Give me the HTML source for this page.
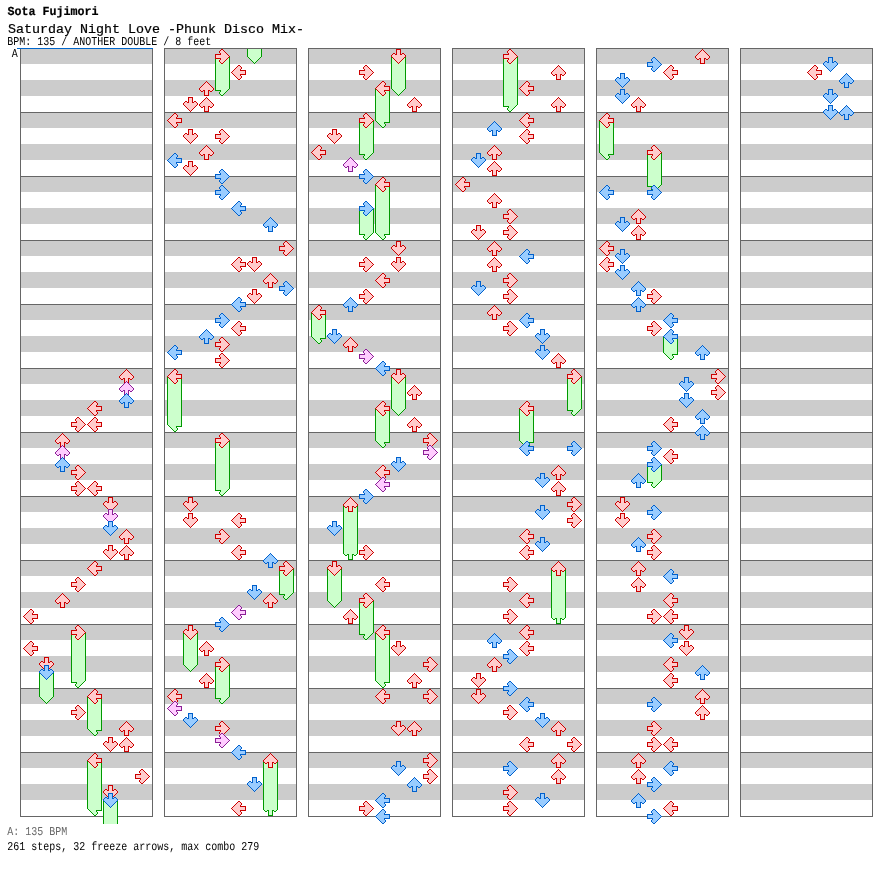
<!DOCTYPE html>
<html><head><meta charset="utf-8"><title>Saturday Night Love -Phunk Disco Mix-</title>
<style>
html,body{margin:0;padding:0;background:#fff}
#w{position:relative;width:896px;height:876px;overflow:hidden;background:#fff;font-family:"Liberation Mono","DejaVu Sans Mono",monospace;color:#000}
.t{position:absolute;left:8px;white-space:pre;line-height:1;transform-origin:0 0}
</style></head><body><div id="w">
<svg width="896" height="876" viewBox="0 0 896 876" shape-rendering="crispEdges" style="position:absolute;left:0;top:0">
<defs><g id="Lr"><path fill="#ffcccc" d="M7 1h2v1h-2zM6 2h4v1h-4zM5 3h5v1h-5zM4 4h5v1h-5zM3 5h6v1h-6zM2 6h12v1h-12zM1 7h13v1h-13zM2 8h12v1h-12zM3 9h6v1h-6zM4 10h5v1h-5zM5 11h5v1h-5zM6 12h4v1h-4zM7 13h2v1h-2z"/><path fill="#cc0000" d="M7 0h2v1h-2zM6 1h1v1h-1zM9 1h1v1h-1zM5 2h1v1h-1zM10 2h1v1h-1zM4 3h1v1h-1zM10 3h1v1h-1zM3 4h1v1h-1zM9 4h1v1h-1zM2 5h1v1h-1zM9 5h6v1h-6zM1 6h1v1h-1zM14 6h1v1h-1zM0 7h1v1h-1zM14 7h1v1h-1zM1 8h1v1h-1zM14 8h1v1h-1zM2 9h1v1h-1zM9 9h6v1h-6zM3 10h1v1h-1zM9 10h1v1h-1zM4 11h1v1h-1zM10 11h1v1h-1zM5 12h1v1h-1zM10 12h1v1h-1zM6 13h1v1h-1zM9 13h1v1h-1zM7 14h2v1h-2z"/></g><g id="Lb"><path fill="#99ccff" d="M7 1h2v1h-2zM6 2h4v1h-4zM5 3h5v1h-5zM4 4h5v1h-5zM3 5h6v1h-6zM2 6h12v1h-12zM1 7h13v1h-13zM2 8h12v1h-12zM3 9h6v1h-6zM4 10h5v1h-5zM5 11h5v1h-5zM6 12h4v1h-4zM7 13h2v1h-2z"/><path fill="#0060cc" d="M7 0h2v1h-2zM6 1h1v1h-1zM9 1h1v1h-1zM5 2h1v1h-1zM10 2h1v1h-1zM4 3h1v1h-1zM10 3h1v1h-1zM3 4h1v1h-1zM9 4h1v1h-1zM2 5h1v1h-1zM9 5h6v1h-6zM1 6h1v1h-1zM14 6h1v1h-1zM0 7h1v1h-1zM14 7h1v1h-1zM1 8h1v1h-1zM14 8h1v1h-1zM2 9h1v1h-1zM9 9h6v1h-6zM3 10h1v1h-1zM9 10h1v1h-1zM4 11h1v1h-1zM10 11h1v1h-1zM5 12h1v1h-1zM10 12h1v1h-1zM6 13h1v1h-1zM9 13h1v1h-1zM7 14h2v1h-2z"/></g><g id="Lp"><path fill="#ffccff" d="M7 1h2v1h-2zM6 2h4v1h-4zM5 3h5v1h-5zM4 4h5v1h-5zM3 5h6v1h-6zM2 6h12v1h-12zM1 7h13v1h-13zM2 8h12v1h-12zM3 9h6v1h-6zM4 10h5v1h-5zM5 11h5v1h-5zM6 12h4v1h-4zM7 13h2v1h-2z"/><path fill="#8b1f96" d="M7 0h2v1h-2zM6 1h1v1h-1zM9 1h1v1h-1zM5 2h1v1h-1zM10 2h1v1h-1zM4 3h1v1h-1zM10 3h1v1h-1zM3 4h1v1h-1zM9 4h1v1h-1zM2 5h1v1h-1zM9 5h6v1h-6zM1 6h1v1h-1zM14 6h1v1h-1zM0 7h1v1h-1zM14 7h1v1h-1zM1 8h1v1h-1zM14 8h1v1h-1zM2 9h1v1h-1zM9 9h6v1h-6zM3 10h1v1h-1zM9 10h1v1h-1zM4 11h1v1h-1zM10 11h1v1h-1zM5 12h1v1h-1zM10 12h1v1h-1zM6 13h1v1h-1zM9 13h1v1h-1zM7 14h2v1h-2z"/></g><g id="tL"><path fill="#ccffcc" d="M1 7h13v1h-13zM2 8h12v1h-12zM3 9h6v1h-6zM4 10h5v1h-5zM5 11h5v1h-5zM6 12h4v1h-4zM7 13h2v1h-2z"/><path fill="#009900" d="M0 7h1v1h-1zM14 7h1v1h-1zM1 8h1v1h-1zM14 8h1v1h-1zM2 9h1v1h-1zM9 9h6v1h-6zM3 10h1v1h-1zM9 10h1v1h-1zM4 11h1v1h-1zM10 11h1v1h-1zM5 12h1v1h-1zM10 12h1v1h-1zM6 13h1v1h-1zM9 13h1v1h-1zM7 14h2v1h-2z"/></g><g id="Rr"><path fill="#ffcccc" d="M6 1h2v1h-2zM5 2h4v1h-4zM5 3h5v1h-5zM6 4h5v1h-5zM6 5h6v1h-6zM1 6h12v1h-12zM1 7h13v1h-13zM1 8h12v1h-12zM6 9h6v1h-6zM6 10h5v1h-5zM5 11h5v1h-5zM5 12h4v1h-4zM6 13h2v1h-2z"/><path fill="#cc0000" d="M6 0h2v1h-2zM5 1h1v1h-1zM8 1h1v1h-1zM4 2h1v1h-1zM9 2h1v1h-1zM4 3h1v1h-1zM10 3h1v1h-1zM5 4h1v1h-1zM11 4h1v1h-1zM0 5h6v1h-6zM12 5h1v1h-1zM0 6h1v1h-1zM13 6h1v1h-1zM0 7h1v1h-1zM14 7h1v1h-1zM0 8h1v1h-1zM13 8h1v1h-1zM0 9h6v1h-6zM12 9h1v1h-1zM5 10h1v1h-1zM11 10h1v1h-1zM4 11h1v1h-1zM10 11h1v1h-1zM4 12h1v1h-1zM9 12h1v1h-1zM5 13h1v1h-1zM8 13h1v1h-1zM6 14h2v1h-2z"/></g><g id="Rb"><path fill="#99ccff" d="M6 1h2v1h-2zM5 2h4v1h-4zM5 3h5v1h-5zM6 4h5v1h-5zM6 5h6v1h-6zM1 6h12v1h-12zM1 7h13v1h-13zM1 8h12v1h-12zM6 9h6v1h-6zM6 10h5v1h-5zM5 11h5v1h-5zM5 12h4v1h-4zM6 13h2v1h-2z"/><path fill="#0060cc" d="M6 0h2v1h-2zM5 1h1v1h-1zM8 1h1v1h-1zM4 2h1v1h-1zM9 2h1v1h-1zM4 3h1v1h-1zM10 3h1v1h-1zM5 4h1v1h-1zM11 4h1v1h-1zM0 5h6v1h-6zM12 5h1v1h-1zM0 6h1v1h-1zM13 6h1v1h-1zM0 7h1v1h-1zM14 7h1v1h-1zM0 8h1v1h-1zM13 8h1v1h-1zM0 9h6v1h-6zM12 9h1v1h-1zM5 10h1v1h-1zM11 10h1v1h-1zM4 11h1v1h-1zM10 11h1v1h-1zM4 12h1v1h-1zM9 12h1v1h-1zM5 13h1v1h-1zM8 13h1v1h-1zM6 14h2v1h-2z"/></g><g id="Rp"><path fill="#ffccff" d="M6 1h2v1h-2zM5 2h4v1h-4zM5 3h5v1h-5zM6 4h5v1h-5zM6 5h6v1h-6zM1 6h12v1h-12zM1 7h13v1h-13zM1 8h12v1h-12zM6 9h6v1h-6zM6 10h5v1h-5zM5 11h5v1h-5zM5 12h4v1h-4zM6 13h2v1h-2z"/><path fill="#8b1f96" d="M6 0h2v1h-2zM5 1h1v1h-1zM8 1h1v1h-1zM4 2h1v1h-1zM9 2h1v1h-1zM4 3h1v1h-1zM10 3h1v1h-1zM5 4h1v1h-1zM11 4h1v1h-1zM0 5h6v1h-6zM12 5h1v1h-1zM0 6h1v1h-1zM13 6h1v1h-1zM0 7h1v1h-1zM14 7h1v1h-1zM0 8h1v1h-1zM13 8h1v1h-1zM0 9h6v1h-6zM12 9h1v1h-1zM5 10h1v1h-1zM11 10h1v1h-1zM4 11h1v1h-1zM10 11h1v1h-1zM4 12h1v1h-1zM9 12h1v1h-1zM5 13h1v1h-1zM8 13h1v1h-1zM6 14h2v1h-2z"/></g><g id="tR"><path fill="#ccffcc" d="M1 7h13v1h-13zM1 8h12v1h-12zM6 9h6v1h-6zM6 10h5v1h-5zM5 11h5v1h-5zM5 12h4v1h-4zM6 13h2v1h-2z"/><path fill="#009900" d="M0 7h1v1h-1zM14 7h1v1h-1zM0 8h1v1h-1zM13 8h1v1h-1zM0 9h6v1h-6zM12 9h1v1h-1zM5 10h1v1h-1zM11 10h1v1h-1zM4 11h1v1h-1zM10 11h1v1h-1zM4 12h1v1h-1zM9 12h1v1h-1zM5 13h1v1h-1zM8 13h1v1h-1zM6 14h2v1h-2z"/></g><g id="Ur"><path fill="#ffcccc" d="M7 1h1v1h-1zM6 2h3v1h-3zM5 3h5v1h-5zM4 4h7v1h-7zM3 5h9v1h-9zM2 6h11v1h-11zM1 7h13v1h-13zM1 8h13v1h-13zM2 9h2v1h-2zM6 9h3v1h-3zM11 9h2v1h-2zM6 10h3v1h-3zM6 11h3v1h-3zM6 12h3v1h-3zM6 13h3v1h-3z"/><path fill="#cc0000" d="M7 0h1v1h-1zM6 1h1v1h-1zM8 1h1v1h-1zM5 2h1v1h-1zM9 2h1v1h-1zM4 3h1v1h-1zM10 3h1v1h-1zM3 4h1v1h-1zM11 4h1v1h-1zM2 5h1v1h-1zM12 5h1v1h-1zM1 6h1v1h-1zM13 6h1v1h-1zM0 7h1v1h-1zM14 7h1v1h-1zM0 8h1v1h-1zM14 8h1v1h-1zM1 9h1v1h-1zM4 9h2v1h-2zM9 9h2v1h-2zM13 9h1v1h-1zM2 10h2v1h-2zM5 10h1v1h-1zM9 10h1v1h-1zM11 10h2v1h-2zM5 11h1v1h-1zM9 11h1v1h-1zM5 12h1v1h-1zM9 12h1v1h-1zM5 13h1v1h-1zM9 13h1v1h-1zM5 14h5v1h-5z"/></g><g id="Ub"><path fill="#99ccff" d="M7 1h1v1h-1zM6 2h3v1h-3zM5 3h5v1h-5zM4 4h7v1h-7zM3 5h9v1h-9zM2 6h11v1h-11zM1 7h13v1h-13zM1 8h13v1h-13zM2 9h2v1h-2zM6 9h3v1h-3zM11 9h2v1h-2zM6 10h3v1h-3zM6 11h3v1h-3zM6 12h3v1h-3zM6 13h3v1h-3z"/><path fill="#0060cc" d="M7 0h1v1h-1zM6 1h1v1h-1zM8 1h1v1h-1zM5 2h1v1h-1zM9 2h1v1h-1zM4 3h1v1h-1zM10 3h1v1h-1zM3 4h1v1h-1zM11 4h1v1h-1zM2 5h1v1h-1zM12 5h1v1h-1zM1 6h1v1h-1zM13 6h1v1h-1zM0 7h1v1h-1zM14 7h1v1h-1zM0 8h1v1h-1zM14 8h1v1h-1zM1 9h1v1h-1zM4 9h2v1h-2zM9 9h2v1h-2zM13 9h1v1h-1zM2 10h2v1h-2zM5 10h1v1h-1zM9 10h1v1h-1zM11 10h2v1h-2zM5 11h1v1h-1zM9 11h1v1h-1zM5 12h1v1h-1zM9 12h1v1h-1zM5 13h1v1h-1zM9 13h1v1h-1zM5 14h5v1h-5z"/></g><g id="Up"><path fill="#ffccff" d="M7 1h1v1h-1zM6 2h3v1h-3zM5 3h5v1h-5zM4 4h7v1h-7zM3 5h9v1h-9zM2 6h11v1h-11zM1 7h13v1h-13zM1 8h13v1h-13zM2 9h2v1h-2zM6 9h3v1h-3zM11 9h2v1h-2zM6 10h3v1h-3zM6 11h3v1h-3zM6 12h3v1h-3zM6 13h3v1h-3z"/><path fill="#8b1f96" d="M7 0h1v1h-1zM6 1h1v1h-1zM8 1h1v1h-1zM5 2h1v1h-1zM9 2h1v1h-1zM4 3h1v1h-1zM10 3h1v1h-1zM3 4h1v1h-1zM11 4h1v1h-1zM2 5h1v1h-1zM12 5h1v1h-1zM1 6h1v1h-1zM13 6h1v1h-1zM0 7h1v1h-1zM14 7h1v1h-1zM0 8h1v1h-1zM14 8h1v1h-1zM1 9h1v1h-1zM4 9h2v1h-2zM9 9h2v1h-2zM13 9h1v1h-1zM2 10h2v1h-2zM5 10h1v1h-1zM9 10h1v1h-1zM11 10h2v1h-2zM5 11h1v1h-1zM9 11h1v1h-1zM5 12h1v1h-1zM9 12h1v1h-1zM5 13h1v1h-1zM9 13h1v1h-1zM5 14h5v1h-5z"/></g><g id="tU"><path fill="#ccffcc" d="M1 7h13v1h-13zM1 8h13v1h-13zM2 9h2v1h-2zM6 9h3v1h-3zM11 9h2v1h-2zM6 10h3v1h-3zM6 11h3v1h-3zM6 12h3v1h-3zM6 13h3v1h-3z"/><path fill="#009900" d="M0 7h1v1h-1zM14 7h1v1h-1zM0 8h1v1h-1zM14 8h1v1h-1zM1 9h1v1h-1zM4 9h2v1h-2zM9 9h2v1h-2zM13 9h1v1h-1zM2 10h2v1h-2zM5 10h1v1h-1zM9 10h1v1h-1zM11 10h2v1h-2zM5 11h1v1h-1zM9 11h1v1h-1zM5 12h1v1h-1zM9 12h1v1h-1zM5 13h1v1h-1zM9 13h1v1h-1zM5 14h5v1h-5z"/></g><g id="Dr"><path fill="#ffcccc" d="M6 1h3v1h-3zM6 2h3v1h-3zM6 3h3v1h-3zM6 4h3v1h-3zM2 5h2v1h-2zM6 5h3v1h-3zM11 5h2v1h-2zM1 6h13v1h-13zM1 7h13v1h-13zM2 8h11v1h-11zM3 9h9v1h-9zM4 10h7v1h-7zM5 11h5v1h-5zM6 12h3v1h-3zM7 13h1v1h-1z"/><path fill="#cc0000" d="M5 0h5v1h-5zM5 1h1v1h-1zM9 1h1v1h-1zM5 2h1v1h-1zM9 2h1v1h-1zM5 3h1v1h-1zM9 3h1v1h-1zM2 4h2v1h-2zM5 4h1v1h-1zM9 4h1v1h-1zM11 4h2v1h-2zM1 5h1v1h-1zM4 5h2v1h-2zM9 5h2v1h-2zM13 5h1v1h-1zM0 6h1v1h-1zM14 6h1v1h-1zM0 7h1v1h-1zM14 7h1v1h-1zM1 8h1v1h-1zM13 8h1v1h-1zM2 9h1v1h-1zM12 9h1v1h-1zM3 10h1v1h-1zM11 10h1v1h-1zM4 11h1v1h-1zM10 11h1v1h-1zM5 12h1v1h-1zM9 12h1v1h-1zM6 13h1v1h-1zM8 13h1v1h-1zM7 14h1v1h-1z"/></g><g id="Db"><path fill="#99ccff" d="M6 1h3v1h-3zM6 2h3v1h-3zM6 3h3v1h-3zM6 4h3v1h-3zM2 5h2v1h-2zM6 5h3v1h-3zM11 5h2v1h-2zM1 6h13v1h-13zM1 7h13v1h-13zM2 8h11v1h-11zM3 9h9v1h-9zM4 10h7v1h-7zM5 11h5v1h-5zM6 12h3v1h-3zM7 13h1v1h-1z"/><path fill="#0060cc" d="M5 0h5v1h-5zM5 1h1v1h-1zM9 1h1v1h-1zM5 2h1v1h-1zM9 2h1v1h-1zM5 3h1v1h-1zM9 3h1v1h-1zM2 4h2v1h-2zM5 4h1v1h-1zM9 4h1v1h-1zM11 4h2v1h-2zM1 5h1v1h-1zM4 5h2v1h-2zM9 5h2v1h-2zM13 5h1v1h-1zM0 6h1v1h-1zM14 6h1v1h-1zM0 7h1v1h-1zM14 7h1v1h-1zM1 8h1v1h-1zM13 8h1v1h-1zM2 9h1v1h-1zM12 9h1v1h-1zM3 10h1v1h-1zM11 10h1v1h-1zM4 11h1v1h-1zM10 11h1v1h-1zM5 12h1v1h-1zM9 12h1v1h-1zM6 13h1v1h-1zM8 13h1v1h-1zM7 14h1v1h-1z"/></g><g id="Dp"><path fill="#ffccff" d="M6 1h3v1h-3zM6 2h3v1h-3zM6 3h3v1h-3zM6 4h3v1h-3zM2 5h2v1h-2zM6 5h3v1h-3zM11 5h2v1h-2zM1 6h13v1h-13zM1 7h13v1h-13zM2 8h11v1h-11zM3 9h9v1h-9zM4 10h7v1h-7zM5 11h5v1h-5zM6 12h3v1h-3zM7 13h1v1h-1z"/><path fill="#8b1f96" d="M5 0h5v1h-5zM5 1h1v1h-1zM9 1h1v1h-1zM5 2h1v1h-1zM9 2h1v1h-1zM5 3h1v1h-1zM9 3h1v1h-1zM2 4h2v1h-2zM5 4h1v1h-1zM9 4h1v1h-1zM11 4h2v1h-2zM1 5h1v1h-1zM4 5h2v1h-2zM9 5h2v1h-2zM13 5h1v1h-1zM0 6h1v1h-1zM14 6h1v1h-1zM0 7h1v1h-1zM14 7h1v1h-1zM1 8h1v1h-1zM13 8h1v1h-1zM2 9h1v1h-1zM12 9h1v1h-1zM3 10h1v1h-1zM11 10h1v1h-1zM4 11h1v1h-1zM10 11h1v1h-1zM5 12h1v1h-1zM9 12h1v1h-1zM6 13h1v1h-1zM8 13h1v1h-1zM7 14h1v1h-1z"/></g><g id="tD"><path fill="#ccffcc" d="M1 7h13v1h-13zM2 8h11v1h-11zM3 9h9v1h-9zM4 10h7v1h-7zM5 11h5v1h-5zM6 12h3v1h-3zM7 13h1v1h-1z"/><path fill="#009900" d="M0 7h1v1h-1zM14 7h1v1h-1zM1 8h1v1h-1zM13 8h1v1h-1zM2 9h1v1h-1zM12 9h1v1h-1zM3 10h1v1h-1zM11 10h1v1h-1zM4 11h1v1h-1zM10 11h1v1h-1zM5 12h1v1h-1zM9 12h1v1h-1zM6 13h1v1h-1zM8 13h1v1h-1zM7 14h1v1h-1z"/></g></defs>
<rect x="20" y="48" width="133" height="769" fill="#fff"/>
<rect x="21" y="48" width="131" height="16" fill="#ccc"/>
<rect x="21" y="80" width="131" height="16" fill="#ccc"/>
<rect x="21" y="112" width="131" height="16" fill="#ccc"/>
<rect x="21" y="144" width="131" height="16" fill="#ccc"/>
<rect x="21" y="176" width="131" height="16" fill="#ccc"/>
<rect x="21" y="208" width="131" height="16" fill="#ccc"/>
<rect x="21" y="240" width="131" height="16" fill="#ccc"/>
<rect x="21" y="272" width="131" height="16" fill="#ccc"/>
<rect x="21" y="304" width="131" height="16" fill="#ccc"/>
<rect x="21" y="336" width="131" height="16" fill="#ccc"/>
<rect x="21" y="368" width="131" height="16" fill="#ccc"/>
<rect x="21" y="400" width="131" height="16" fill="#ccc"/>
<rect x="21" y="432" width="131" height="16" fill="#ccc"/>
<rect x="21" y="464" width="131" height="16" fill="#ccc"/>
<rect x="21" y="496" width="131" height="16" fill="#ccc"/>
<rect x="21" y="528" width="131" height="16" fill="#ccc"/>
<rect x="21" y="560" width="131" height="16" fill="#ccc"/>
<rect x="21" y="592" width="131" height="16" fill="#ccc"/>
<rect x="21" y="624" width="131" height="16" fill="#ccc"/>
<rect x="21" y="656" width="131" height="16" fill="#ccc"/>
<rect x="21" y="688" width="131" height="16" fill="#ccc"/>
<rect x="21" y="720" width="131" height="16" fill="#ccc"/>
<rect x="21" y="752" width="131" height="16" fill="#ccc"/>
<rect x="21" y="784" width="131" height="16" fill="#ccc"/>
<rect x="20" y="112" width="133" height="1" fill="#666"/>
<rect x="20" y="176" width="133" height="1" fill="#666"/>
<rect x="20" y="240" width="133" height="1" fill="#666"/>
<rect x="20" y="304" width="133" height="1" fill="#666"/>
<rect x="20" y="368" width="133" height="1" fill="#666"/>
<rect x="20" y="432" width="133" height="1" fill="#666"/>
<rect x="20" y="496" width="133" height="1" fill="#666"/>
<rect x="20" y="560" width="133" height="1" fill="#666"/>
<rect x="20" y="624" width="133" height="1" fill="#666"/>
<rect x="20" y="688" width="133" height="1" fill="#666"/>
<rect x="20" y="752" width="133" height="1" fill="#666"/>
<path fill="none" stroke="#666" stroke-width="1" d="M20.5 48.5h132v768h-132z"/>
<rect x="164" y="48" width="133" height="769" fill="#fff"/>
<rect x="165" y="48" width="131" height="16" fill="#ccc"/>
<rect x="165" y="80" width="131" height="16" fill="#ccc"/>
<rect x="165" y="112" width="131" height="16" fill="#ccc"/>
<rect x="165" y="144" width="131" height="16" fill="#ccc"/>
<rect x="165" y="176" width="131" height="16" fill="#ccc"/>
<rect x="165" y="208" width="131" height="16" fill="#ccc"/>
<rect x="165" y="240" width="131" height="16" fill="#ccc"/>
<rect x="165" y="272" width="131" height="16" fill="#ccc"/>
<rect x="165" y="304" width="131" height="16" fill="#ccc"/>
<rect x="165" y="336" width="131" height="16" fill="#ccc"/>
<rect x="165" y="368" width="131" height="16" fill="#ccc"/>
<rect x="165" y="400" width="131" height="16" fill="#ccc"/>
<rect x="165" y="432" width="131" height="16" fill="#ccc"/>
<rect x="165" y="464" width="131" height="16" fill="#ccc"/>
<rect x="165" y="496" width="131" height="16" fill="#ccc"/>
<rect x="165" y="528" width="131" height="16" fill="#ccc"/>
<rect x="165" y="560" width="131" height="16" fill="#ccc"/>
<rect x="165" y="592" width="131" height="16" fill="#ccc"/>
<rect x="165" y="624" width="131" height="16" fill="#ccc"/>
<rect x="165" y="656" width="131" height="16" fill="#ccc"/>
<rect x="165" y="688" width="131" height="16" fill="#ccc"/>
<rect x="165" y="720" width="131" height="16" fill="#ccc"/>
<rect x="165" y="752" width="131" height="16" fill="#ccc"/>
<rect x="165" y="784" width="131" height="16" fill="#ccc"/>
<rect x="164" y="112" width="133" height="1" fill="#666"/>
<rect x="164" y="176" width="133" height="1" fill="#666"/>
<rect x="164" y="240" width="133" height="1" fill="#666"/>
<rect x="164" y="304" width="133" height="1" fill="#666"/>
<rect x="164" y="368" width="133" height="1" fill="#666"/>
<rect x="164" y="432" width="133" height="1" fill="#666"/>
<rect x="164" y="496" width="133" height="1" fill="#666"/>
<rect x="164" y="560" width="133" height="1" fill="#666"/>
<rect x="164" y="624" width="133" height="1" fill="#666"/>
<rect x="164" y="688" width="133" height="1" fill="#666"/>
<rect x="164" y="752" width="133" height="1" fill="#666"/>
<path fill="none" stroke="#666" stroke-width="1" d="M164.5 48.5h132v768h-132z"/>
<rect x="308" y="48" width="133" height="769" fill="#fff"/>
<rect x="309" y="48" width="131" height="16" fill="#ccc"/>
<rect x="309" y="80" width="131" height="16" fill="#ccc"/>
<rect x="309" y="112" width="131" height="16" fill="#ccc"/>
<rect x="309" y="144" width="131" height="16" fill="#ccc"/>
<rect x="309" y="176" width="131" height="16" fill="#ccc"/>
<rect x="309" y="208" width="131" height="16" fill="#ccc"/>
<rect x="309" y="240" width="131" height="16" fill="#ccc"/>
<rect x="309" y="272" width="131" height="16" fill="#ccc"/>
<rect x="309" y="304" width="131" height="16" fill="#ccc"/>
<rect x="309" y="336" width="131" height="16" fill="#ccc"/>
<rect x="309" y="368" width="131" height="16" fill="#ccc"/>
<rect x="309" y="400" width="131" height="16" fill="#ccc"/>
<rect x="309" y="432" width="131" height="16" fill="#ccc"/>
<rect x="309" y="464" width="131" height="16" fill="#ccc"/>
<rect x="309" y="496" width="131" height="16" fill="#ccc"/>
<rect x="309" y="528" width="131" height="16" fill="#ccc"/>
<rect x="309" y="560" width="131" height="16" fill="#ccc"/>
<rect x="309" y="592" width="131" height="16" fill="#ccc"/>
<rect x="309" y="624" width="131" height="16" fill="#ccc"/>
<rect x="309" y="656" width="131" height="16" fill="#ccc"/>
<rect x="309" y="688" width="131" height="16" fill="#ccc"/>
<rect x="309" y="720" width="131" height="16" fill="#ccc"/>
<rect x="309" y="752" width="131" height="16" fill="#ccc"/>
<rect x="309" y="784" width="131" height="16" fill="#ccc"/>
<rect x="308" y="112" width="133" height="1" fill="#666"/>
<rect x="308" y="176" width="133" height="1" fill="#666"/>
<rect x="308" y="240" width="133" height="1" fill="#666"/>
<rect x="308" y="304" width="133" height="1" fill="#666"/>
<rect x="308" y="368" width="133" height="1" fill="#666"/>
<rect x="308" y="432" width="133" height="1" fill="#666"/>
<rect x="308" y="496" width="133" height="1" fill="#666"/>
<rect x="308" y="560" width="133" height="1" fill="#666"/>
<rect x="308" y="624" width="133" height="1" fill="#666"/>
<rect x="308" y="688" width="133" height="1" fill="#666"/>
<rect x="308" y="752" width="133" height="1" fill="#666"/>
<path fill="none" stroke="#666" stroke-width="1" d="M308.5 48.5h132v768h-132z"/>
<rect x="452" y="48" width="133" height="769" fill="#fff"/>
<rect x="453" y="48" width="131" height="16" fill="#ccc"/>
<rect x="453" y="80" width="131" height="16" fill="#ccc"/>
<rect x="453" y="112" width="131" height="16" fill="#ccc"/>
<rect x="453" y="144" width="131" height="16" fill="#ccc"/>
<rect x="453" y="176" width="131" height="16" fill="#ccc"/>
<rect x="453" y="208" width="131" height="16" fill="#ccc"/>
<rect x="453" y="240" width="131" height="16" fill="#ccc"/>
<rect x="453" y="272" width="131" height="16" fill="#ccc"/>
<rect x="453" y="304" width="131" height="16" fill="#ccc"/>
<rect x="453" y="336" width="131" height="16" fill="#ccc"/>
<rect x="453" y="368" width="131" height="16" fill="#ccc"/>
<rect x="453" y="400" width="131" height="16" fill="#ccc"/>
<rect x="453" y="432" width="131" height="16" fill="#ccc"/>
<rect x="453" y="464" width="131" height="16" fill="#ccc"/>
<rect x="453" y="496" width="131" height="16" fill="#ccc"/>
<rect x="453" y="528" width="131" height="16" fill="#ccc"/>
<rect x="453" y="560" width="131" height="16" fill="#ccc"/>
<rect x="453" y="592" width="131" height="16" fill="#ccc"/>
<rect x="453" y="624" width="131" height="16" fill="#ccc"/>
<rect x="453" y="656" width="131" height="16" fill="#ccc"/>
<rect x="453" y="688" width="131" height="16" fill="#ccc"/>
<rect x="453" y="720" width="131" height="16" fill="#ccc"/>
<rect x="453" y="752" width="131" height="16" fill="#ccc"/>
<rect x="453" y="784" width="131" height="16" fill="#ccc"/>
<rect x="452" y="112" width="133" height="1" fill="#666"/>
<rect x="452" y="176" width="133" height="1" fill="#666"/>
<rect x="452" y="240" width="133" height="1" fill="#666"/>
<rect x="452" y="304" width="133" height="1" fill="#666"/>
<rect x="452" y="368" width="133" height="1" fill="#666"/>
<rect x="452" y="432" width="133" height="1" fill="#666"/>
<rect x="452" y="496" width="133" height="1" fill="#666"/>
<rect x="452" y="560" width="133" height="1" fill="#666"/>
<rect x="452" y="624" width="133" height="1" fill="#666"/>
<rect x="452" y="688" width="133" height="1" fill="#666"/>
<rect x="452" y="752" width="133" height="1" fill="#666"/>
<path fill="none" stroke="#666" stroke-width="1" d="M452.5 48.5h132v768h-132z"/>
<rect x="596" y="48" width="133" height="769" fill="#fff"/>
<rect x="597" y="48" width="131" height="16" fill="#ccc"/>
<rect x="597" y="80" width="131" height="16" fill="#ccc"/>
<rect x="597" y="112" width="131" height="16" fill="#ccc"/>
<rect x="597" y="144" width="131" height="16" fill="#ccc"/>
<rect x="597" y="176" width="131" height="16" fill="#ccc"/>
<rect x="597" y="208" width="131" height="16" fill="#ccc"/>
<rect x="597" y="240" width="131" height="16" fill="#ccc"/>
<rect x="597" y="272" width="131" height="16" fill="#ccc"/>
<rect x="597" y="304" width="131" height="16" fill="#ccc"/>
<rect x="597" y="336" width="131" height="16" fill="#ccc"/>
<rect x="597" y="368" width="131" height="16" fill="#ccc"/>
<rect x="597" y="400" width="131" height="16" fill="#ccc"/>
<rect x="597" y="432" width="131" height="16" fill="#ccc"/>
<rect x="597" y="464" width="131" height="16" fill="#ccc"/>
<rect x="597" y="496" width="131" height="16" fill="#ccc"/>
<rect x="597" y="528" width="131" height="16" fill="#ccc"/>
<rect x="597" y="560" width="131" height="16" fill="#ccc"/>
<rect x="597" y="592" width="131" height="16" fill="#ccc"/>
<rect x="597" y="624" width="131" height="16" fill="#ccc"/>
<rect x="597" y="656" width="131" height="16" fill="#ccc"/>
<rect x="597" y="688" width="131" height="16" fill="#ccc"/>
<rect x="597" y="720" width="131" height="16" fill="#ccc"/>
<rect x="597" y="752" width="131" height="16" fill="#ccc"/>
<rect x="597" y="784" width="131" height="16" fill="#ccc"/>
<rect x="596" y="112" width="133" height="1" fill="#666"/>
<rect x="596" y="176" width="133" height="1" fill="#666"/>
<rect x="596" y="240" width="133" height="1" fill="#666"/>
<rect x="596" y="304" width="133" height="1" fill="#666"/>
<rect x="596" y="368" width="133" height="1" fill="#666"/>
<rect x="596" y="432" width="133" height="1" fill="#666"/>
<rect x="596" y="496" width="133" height="1" fill="#666"/>
<rect x="596" y="560" width="133" height="1" fill="#666"/>
<rect x="596" y="624" width="133" height="1" fill="#666"/>
<rect x="596" y="688" width="133" height="1" fill="#666"/>
<rect x="596" y="752" width="133" height="1" fill="#666"/>
<path fill="none" stroke="#666" stroke-width="1" d="M596.5 48.5h132v768h-132z"/>
<rect x="740" y="48" width="133" height="769" fill="#fff"/>
<rect x="741" y="48" width="131" height="16" fill="#ccc"/>
<rect x="741" y="80" width="131" height="16" fill="#ccc"/>
<rect x="741" y="112" width="131" height="16" fill="#ccc"/>
<rect x="741" y="144" width="131" height="16" fill="#ccc"/>
<rect x="741" y="176" width="131" height="16" fill="#ccc"/>
<rect x="741" y="208" width="131" height="16" fill="#ccc"/>
<rect x="741" y="240" width="131" height="16" fill="#ccc"/>
<rect x="741" y="272" width="131" height="16" fill="#ccc"/>
<rect x="741" y="304" width="131" height="16" fill="#ccc"/>
<rect x="741" y="336" width="131" height="16" fill="#ccc"/>
<rect x="741" y="368" width="131" height="16" fill="#ccc"/>
<rect x="741" y="400" width="131" height="16" fill="#ccc"/>
<rect x="741" y="432" width="131" height="16" fill="#ccc"/>
<rect x="741" y="464" width="131" height="16" fill="#ccc"/>
<rect x="741" y="496" width="131" height="16" fill="#ccc"/>
<rect x="741" y="528" width="131" height="16" fill="#ccc"/>
<rect x="741" y="560" width="131" height="16" fill="#ccc"/>
<rect x="741" y="592" width="131" height="16" fill="#ccc"/>
<rect x="741" y="624" width="131" height="16" fill="#ccc"/>
<rect x="741" y="656" width="131" height="16" fill="#ccc"/>
<rect x="741" y="688" width="131" height="16" fill="#ccc"/>
<rect x="741" y="720" width="131" height="16" fill="#ccc"/>
<rect x="741" y="752" width="131" height="16" fill="#ccc"/>
<rect x="741" y="784" width="131" height="16" fill="#ccc"/>
<rect x="740" y="112" width="133" height="1" fill="#666"/>
<rect x="740" y="176" width="133" height="1" fill="#666"/>
<rect x="740" y="240" width="133" height="1" fill="#666"/>
<rect x="740" y="304" width="133" height="1" fill="#666"/>
<rect x="740" y="368" width="133" height="1" fill="#666"/>
<rect x="740" y="432" width="133" height="1" fill="#666"/>
<rect x="740" y="496" width="133" height="1" fill="#666"/>
<rect x="740" y="560" width="133" height="1" fill="#666"/>
<rect x="740" y="624" width="133" height="1" fill="#666"/>
<rect x="740" y="688" width="133" height="1" fill="#666"/>
<rect x="740" y="752" width="133" height="1" fill="#666"/>
<path fill="none" stroke="#666" stroke-width="1" d="M740.5 48.5h132v768h-132z"/>
<rect x="17" y="48" width="136" height="1" fill="#0066cc"/>
<rect x="71" y="632" width="15" height="48" fill="#ccffcc"/><rect x="71" y="632" width="1" height="48" fill="#009900"/><rect x="85" y="632" width="1" height="48" fill="#009900"/>
<use href="#tR" x="71" y="673"/>
<rect x="39" y="672" width="15" height="24" fill="#ccffcc"/><rect x="39" y="672" width="1" height="24" fill="#009900"/><rect x="53" y="672" width="1" height="24" fill="#009900"/>
<use href="#tD" x="39" y="689"/>
<rect x="87" y="696" width="15" height="32" fill="#ccffcc"/><rect x="87" y="696" width="1" height="32" fill="#009900"/><rect x="101" y="696" width="1" height="32" fill="#009900"/>
<use href="#tL" x="87" y="721"/>
<rect x="87" y="760" width="15" height="48" fill="#ccffcc"/><rect x="87" y="760" width="1" height="48" fill="#009900"/><rect x="101" y="760" width="1" height="48" fill="#009900"/>
<use href="#tL" x="87" y="801"/>
<rect x="103" y="800" width="15" height="24" fill="#ccffcc"/><rect x="103" y="800" width="1" height="24" fill="#009900"/><rect x="117" y="800" width="1" height="24" fill="#009900"/>
<rect x="215" y="56" width="15" height="32" fill="#ccffcc"/><rect x="215" y="56" width="1" height="32" fill="#009900"/><rect x="229" y="56" width="1" height="32" fill="#009900"/>
<use href="#tR" x="215" y="81"/>
<rect x="167" y="376" width="15" height="48" fill="#ccffcc"/><rect x="167" y="376" width="1" height="48" fill="#009900"/><rect x="181" y="376" width="1" height="48" fill="#009900"/>
<use href="#tL" x="167" y="417"/>
<rect x="215" y="440" width="15" height="48" fill="#ccffcc"/><rect x="215" y="440" width="1" height="48" fill="#009900"/><rect x="229" y="440" width="1" height="48" fill="#009900"/>
<use href="#tR" x="215" y="481"/>
<rect x="279" y="568" width="15" height="24" fill="#ccffcc"/><rect x="279" y="568" width="1" height="24" fill="#009900"/><rect x="293" y="568" width="1" height="24" fill="#009900"/>
<use href="#tR" x="279" y="585"/>
<rect x="183" y="632" width="15" height="32" fill="#ccffcc"/><rect x="183" y="632" width="1" height="32" fill="#009900"/><rect x="197" y="632" width="1" height="32" fill="#009900"/>
<use href="#tD" x="183" y="657"/>
<rect x="215" y="664" width="15" height="32" fill="#ccffcc"/><rect x="215" y="664" width="1" height="32" fill="#009900"/><rect x="229" y="664" width="1" height="32" fill="#009900"/>
<use href="#tR" x="215" y="689"/>
<rect x="263" y="760" width="15" height="48" fill="#ccffcc"/><rect x="263" y="760" width="1" height="48" fill="#009900"/><rect x="277" y="760" width="1" height="48" fill="#009900"/>
<use href="#tU" x="263" y="801"/>
<rect x="391" y="56" width="15" height="32" fill="#ccffcc"/><rect x="391" y="56" width="1" height="32" fill="#009900"/><rect x="405" y="56" width="1" height="32" fill="#009900"/>
<use href="#tD" x="391" y="81"/>
<rect x="375" y="88" width="15" height="32" fill="#ccffcc"/><rect x="375" y="88" width="1" height="32" fill="#009900"/><rect x="389" y="88" width="1" height="32" fill="#009900"/>
<use href="#tL" x="375" y="113"/>
<rect x="359" y="120" width="15" height="32" fill="#ccffcc"/><rect x="359" y="120" width="1" height="32" fill="#009900"/><rect x="373" y="120" width="1" height="32" fill="#009900"/>
<use href="#tR" x="359" y="145"/>
<rect x="375" y="184" width="15" height="48" fill="#ccffcc"/><rect x="375" y="184" width="1" height="48" fill="#009900"/><rect x="389" y="184" width="1" height="48" fill="#009900"/>
<use href="#tL" x="375" y="225"/>
<rect x="359" y="208" width="15" height="24" fill="#ccffcc"/><rect x="359" y="208" width="1" height="24" fill="#009900"/><rect x="373" y="208" width="1" height="24" fill="#009900"/>
<use href="#tR" x="359" y="225"/>
<rect x="311" y="312" width="15" height="24" fill="#ccffcc"/><rect x="311" y="312" width="1" height="24" fill="#009900"/><rect x="325" y="312" width="1" height="24" fill="#009900"/>
<use href="#tL" x="311" y="329"/>
<rect x="391" y="376" width="15" height="32" fill="#ccffcc"/><rect x="391" y="376" width="1" height="32" fill="#009900"/><rect x="405" y="376" width="1" height="32" fill="#009900"/>
<use href="#tD" x="391" y="401"/>
<rect x="375" y="408" width="15" height="32" fill="#ccffcc"/><rect x="375" y="408" width="1" height="32" fill="#009900"/><rect x="389" y="408" width="1" height="32" fill="#009900"/>
<use href="#tL" x="375" y="433"/>
<rect x="343" y="504" width="15" height="48" fill="#ccffcc"/><rect x="343" y="504" width="1" height="48" fill="#009900"/><rect x="357" y="504" width="1" height="48" fill="#009900"/>
<use href="#tU" x="343" y="545"/>
<rect x="327" y="568" width="15" height="32" fill="#ccffcc"/><rect x="327" y="568" width="1" height="32" fill="#009900"/><rect x="341" y="568" width="1" height="32" fill="#009900"/>
<use href="#tD" x="327" y="593"/>
<rect x="359" y="600" width="15" height="32" fill="#ccffcc"/><rect x="359" y="600" width="1" height="32" fill="#009900"/><rect x="373" y="600" width="1" height="32" fill="#009900"/>
<use href="#tR" x="359" y="625"/>
<rect x="375" y="632" width="15" height="48" fill="#ccffcc"/><rect x="375" y="632" width="1" height="48" fill="#009900"/><rect x="389" y="632" width="1" height="48" fill="#009900"/>
<use href="#tL" x="375" y="673"/>
<rect x="503" y="56" width="15" height="48" fill="#ccffcc"/><rect x="503" y="56" width="1" height="48" fill="#009900"/><rect x="517" y="56" width="1" height="48" fill="#009900"/>
<use href="#tR" x="503" y="97"/>
<rect x="567" y="376" width="15" height="32" fill="#ccffcc"/><rect x="567" y="376" width="1" height="32" fill="#009900"/><rect x="581" y="376" width="1" height="32" fill="#009900"/>
<use href="#tR" x="567" y="401"/>
<rect x="519" y="408" width="15" height="32" fill="#ccffcc"/><rect x="519" y="408" width="1" height="32" fill="#009900"/><rect x="533" y="408" width="1" height="32" fill="#009900"/>
<use href="#tL" x="519" y="433"/>
<rect x="551" y="568" width="15" height="48" fill="#ccffcc"/><rect x="551" y="568" width="1" height="48" fill="#009900"/><rect x="565" y="568" width="1" height="48" fill="#009900"/>
<use href="#tU" x="551" y="609"/>
<rect x="599" y="120" width="15" height="32" fill="#ccffcc"/><rect x="599" y="120" width="1" height="32" fill="#009900"/><rect x="613" y="120" width="1" height="32" fill="#009900"/>
<use href="#tL" x="599" y="145"/>
<rect x="647" y="152" width="15" height="32" fill="#ccffcc"/><rect x="647" y="152" width="1" height="32" fill="#009900"/><rect x="661" y="152" width="1" height="32" fill="#009900"/>
<use href="#tR" x="647" y="177"/>
<rect x="663" y="336" width="15" height="16" fill="#ccffcc"/><rect x="663" y="336" width="1" height="16" fill="#009900"/><rect x="677" y="336" width="1" height="16" fill="#009900"/>
<use href="#tL" x="663" y="345"/>
<rect x="647" y="464" width="15" height="16" fill="#ccffcc"/><rect x="647" y="464" width="1" height="16" fill="#009900"/><rect x="661" y="464" width="1" height="16" fill="#009900"/>
<use href="#tR" x="647" y="473"/>
<rect x="247" y="49" width="15" height="7" fill="#ccffcc"/><rect x="247" y="49" width="1" height="7" fill="#009900"/><rect x="261" y="49" width="1" height="7" fill="#009900"/>
<use href="#tD" x="247" y="49"/>
<use href="#Ur" x="119" y="369"/>
<use href="#Up" x="119" y="381"/>
<use href="#Ub" x="119" y="393"/>
<use href="#Lr" x="87" y="401"/>
<use href="#Rr" x="71" y="417"/>
<use href="#Lr" x="87" y="417"/>
<use href="#Ur" x="55" y="433"/>
<use href="#Up" x="55" y="445"/>
<use href="#Ub" x="55" y="457"/>
<use href="#Rr" x="71" y="465"/>
<use href="#Rr" x="71" y="481"/>
<use href="#Lr" x="87" y="481"/>
<use href="#Dr" x="103" y="497"/>
<use href="#Dp" x="103" y="509"/>
<use href="#Db" x="103" y="521"/>
<use href="#Ur" x="119" y="529"/>
<use href="#Dr" x="103" y="545"/>
<use href="#Ur" x="119" y="545"/>
<use href="#Lr" x="87" y="561"/>
<use href="#Rr" x="71" y="577"/>
<use href="#Ur" x="55" y="593"/>
<use href="#Lr" x="23" y="609"/>
<use href="#Rr" x="71" y="625"/>
<use href="#Lr" x="23" y="641"/>
<use href="#Dr" x="39" y="657"/>
<use href="#Db" x="39" y="665"/>
<use href="#Lr" x="87" y="689"/>
<use href="#Rr" x="71" y="705"/>
<use href="#Ur" x="119" y="721"/>
<use href="#Dr" x="103" y="737"/>
<use href="#Ur" x="119" y="737"/>
<use href="#Lr" x="87" y="753"/>
<use href="#Rr" x="135" y="769"/>
<use href="#Dr" x="103" y="785"/>
<use href="#Db" x="103" y="793"/>
<use href="#Rr" x="215" y="49"/>
<use href="#Lr" x="231" y="65"/>
<use href="#Ur" x="199" y="81"/>
<use href="#Dr" x="183" y="97"/>
<use href="#Ur" x="199" y="97"/>
<use href="#Lr" x="167" y="113"/>
<use href="#Dr" x="183" y="129"/>
<use href="#Rr" x="215" y="129"/>
<use href="#Ur" x="199" y="145"/>
<use href="#Lb" x="167" y="153"/>
<use href="#Dr" x="183" y="161"/>
<use href="#Rb" x="215" y="169"/>
<use href="#Rb" x="215" y="185"/>
<use href="#Lb" x="231" y="201"/>
<use href="#Ub" x="263" y="217"/>
<use href="#Rr" x="279" y="241"/>
<use href="#Lr" x="231" y="257"/>
<use href="#Dr" x="247" y="257"/>
<use href="#Ur" x="263" y="273"/>
<use href="#Rb" x="279" y="281"/>
<use href="#Dr" x="247" y="289"/>
<use href="#Lb" x="231" y="297"/>
<use href="#Rb" x="215" y="313"/>
<use href="#Lr" x="231" y="321"/>
<use href="#Ub" x="199" y="329"/>
<use href="#Rr" x="215" y="337"/>
<use href="#Lb" x="167" y="345"/>
<use href="#Rr" x="215" y="353"/>
<use href="#Lr" x="167" y="369"/>
<use href="#Rr" x="215" y="433"/>
<use href="#Dr" x="183" y="497"/>
<use href="#Dr" x="183" y="513"/>
<use href="#Lr" x="231" y="513"/>
<use href="#Rr" x="215" y="529"/>
<use href="#Lr" x="231" y="545"/>
<use href="#Ub" x="263" y="553"/>
<use href="#Rr" x="279" y="561"/>
<use href="#Db" x="247" y="585"/>
<use href="#Ur" x="263" y="593"/>
<use href="#Lp" x="231" y="605"/>
<use href="#Rb" x="215" y="617"/>
<use href="#Dr" x="183" y="625"/>
<use href="#Ur" x="199" y="641"/>
<use href="#Rr" x="215" y="657"/>
<use href="#Ur" x="199" y="673"/>
<use href="#Lr" x="167" y="689"/>
<use href="#Lp" x="167" y="701"/>
<use href="#Db" x="183" y="713"/>
<use href="#Rr" x="215" y="721"/>
<use href="#Rp" x="215" y="733"/>
<use href="#Lb" x="231" y="745"/>
<use href="#Ur" x="263" y="753"/>
<use href="#Db" x="247" y="777"/>
<use href="#Lr" x="231" y="801"/>
<use href="#Dr" x="391" y="49"/>
<use href="#Rr" x="359" y="65"/>
<use href="#Lr" x="375" y="81"/>
<use href="#Ur" x="407" y="97"/>
<use href="#Rr" x="359" y="113"/>
<use href="#Dr" x="327" y="129"/>
<use href="#Lr" x="311" y="145"/>
<use href="#Up" x="343" y="157"/>
<use href="#Rb" x="359" y="169"/>
<use href="#Lr" x="375" y="177"/>
<use href="#Rb" x="359" y="201"/>
<use href="#Dr" x="391" y="241"/>
<use href="#Rr" x="359" y="257"/>
<use href="#Dr" x="391" y="257"/>
<use href="#Lr" x="375" y="273"/>
<use href="#Rr" x="359" y="289"/>
<use href="#Ub" x="343" y="297"/>
<use href="#Lr" x="311" y="305"/>
<use href="#Db" x="327" y="329"/>
<use href="#Ur" x="343" y="337"/>
<use href="#Rp" x="359" y="349"/>
<use href="#Lb" x="375" y="361"/>
<use href="#Dr" x="391" y="369"/>
<use href="#Ur" x="407" y="385"/>
<use href="#Lr" x="375" y="401"/>
<use href="#Ur" x="407" y="417"/>
<use href="#Rr" x="423" y="433"/>
<use href="#Rp" x="423" y="445"/>
<use href="#Db" x="391" y="457"/>
<use href="#Lr" x="375" y="465"/>
<use href="#Lp" x="375" y="477"/>
<use href="#Rb" x="359" y="489"/>
<use href="#Ur" x="343" y="497"/>
<use href="#Db" x="327" y="521"/>
<use href="#Rr" x="359" y="545"/>
<use href="#Dr" x="327" y="561"/>
<use href="#Lr" x="375" y="577"/>
<use href="#Rr" x="359" y="593"/>
<use href="#Ur" x="343" y="609"/>
<use href="#Lr" x="375" y="625"/>
<use href="#Dr" x="391" y="641"/>
<use href="#Rr" x="423" y="657"/>
<use href="#Ur" x="407" y="673"/>
<use href="#Lr" x="375" y="689"/>
<use href="#Rr" x="423" y="689"/>
<use href="#Dr" x="391" y="721"/>
<use href="#Ur" x="407" y="721"/>
<use href="#Rr" x="423" y="753"/>
<use href="#Db" x="391" y="761"/>
<use href="#Rr" x="423" y="769"/>
<use href="#Ub" x="407" y="777"/>
<use href="#Lb" x="375" y="793"/>
<use href="#Rr" x="359" y="801"/>
<use href="#Lb" x="375" y="809"/>
<use href="#Rr" x="503" y="49"/>
<use href="#Ur" x="551" y="65"/>
<use href="#Lr" x="519" y="81"/>
<use href="#Ur" x="551" y="97"/>
<use href="#Lr" x="519" y="113"/>
<use href="#Ub" x="487" y="121"/>
<use href="#Lr" x="519" y="129"/>
<use href="#Ur" x="487" y="145"/>
<use href="#Db" x="471" y="153"/>
<use href="#Ur" x="487" y="161"/>
<use href="#Lr" x="455" y="177"/>
<use href="#Ur" x="487" y="193"/>
<use href="#Rr" x="503" y="209"/>
<use href="#Dr" x="471" y="225"/>
<use href="#Rr" x="503" y="225"/>
<use href="#Ur" x="487" y="241"/>
<use href="#Lb" x="519" y="249"/>
<use href="#Ur" x="487" y="257"/>
<use href="#Rr" x="503" y="273"/>
<use href="#Db" x="471" y="281"/>
<use href="#Rr" x="503" y="289"/>
<use href="#Ur" x="487" y="305"/>
<use href="#Lb" x="519" y="313"/>
<use href="#Rr" x="503" y="321"/>
<use href="#Db" x="535" y="329"/>
<use href="#Db" x="535" y="345"/>
<use href="#Ur" x="551" y="353"/>
<use href="#Rr" x="567" y="369"/>
<use href="#Lr" x="519" y="401"/>
<use href="#Lb" x="519" y="441"/>
<use href="#Rb" x="567" y="441"/>
<use href="#Ur" x="551" y="465"/>
<use href="#Db" x="535" y="473"/>
<use href="#Ur" x="551" y="481"/>
<use href="#Rr" x="567" y="497"/>
<use href="#Db" x="535" y="505"/>
<use href="#Rr" x="567" y="513"/>
<use href="#Lr" x="519" y="529"/>
<use href="#Db" x="535" y="537"/>
<use href="#Lr" x="519" y="545"/>
<use href="#Ur" x="551" y="561"/>
<use href="#Rr" x="503" y="577"/>
<use href="#Lr" x="519" y="593"/>
<use href="#Rr" x="503" y="609"/>
<use href="#Lr" x="519" y="625"/>
<use href="#Ub" x="487" y="633"/>
<use href="#Lr" x="519" y="641"/>
<use href="#Rb" x="503" y="649"/>
<use href="#Ur" x="487" y="657"/>
<use href="#Dr" x="471" y="673"/>
<use href="#Rb" x="503" y="681"/>
<use href="#Dr" x="471" y="689"/>
<use href="#Lb" x="519" y="697"/>
<use href="#Rr" x="503" y="705"/>
<use href="#Db" x="535" y="713"/>
<use href="#Ur" x="551" y="721"/>
<use href="#Lr" x="519" y="737"/>
<use href="#Rr" x="567" y="737"/>
<use href="#Ur" x="551" y="753"/>
<use href="#Rb" x="503" y="761"/>
<use href="#Ur" x="551" y="769"/>
<use href="#Rr" x="503" y="785"/>
<use href="#Db" x="535" y="793"/>
<use href="#Rr" x="503" y="801"/>
<use href="#Ur" x="695" y="49"/>
<use href="#Rb" x="647" y="57"/>
<use href="#Lr" x="663" y="65"/>
<use href="#Db" x="615" y="73"/>
<use href="#Db" x="615" y="89"/>
<use href="#Ur" x="631" y="97"/>
<use href="#Lr" x="599" y="113"/>
<use href="#Rr" x="647" y="145"/>
<use href="#Lb" x="599" y="185"/>
<use href="#Rb" x="647" y="185"/>
<use href="#Ur" x="631" y="209"/>
<use href="#Db" x="615" y="217"/>
<use href="#Ur" x="631" y="225"/>
<use href="#Lr" x="599" y="241"/>
<use href="#Db" x="615" y="249"/>
<use href="#Lr" x="599" y="257"/>
<use href="#Db" x="615" y="265"/>
<use href="#Ub" x="631" y="281"/>
<use href="#Rr" x="647" y="289"/>
<use href="#Ub" x="631" y="297"/>
<use href="#Lb" x="663" y="313"/>
<use href="#Rr" x="647" y="321"/>
<use href="#Lb" x="663" y="329"/>
<use href="#Ub" x="695" y="345"/>
<use href="#Rr" x="711" y="369"/>
<use href="#Db" x="679" y="377"/>
<use href="#Rr" x="711" y="385"/>
<use href="#Db" x="679" y="393"/>
<use href="#Ub" x="695" y="409"/>
<use href="#Lr" x="663" y="417"/>
<use href="#Ub" x="695" y="425"/>
<use href="#Rb" x="647" y="441"/>
<use href="#Lr" x="663" y="449"/>
<use href="#Rb" x="647" y="457"/>
<use href="#Ub" x="631" y="473"/>
<use href="#Dr" x="615" y="497"/>
<use href="#Rb" x="647" y="505"/>
<use href="#Dr" x="615" y="513"/>
<use href="#Rr" x="647" y="529"/>
<use href="#Ub" x="631" y="537"/>
<use href="#Rr" x="647" y="545"/>
<use href="#Ur" x="631" y="561"/>
<use href="#Lb" x="663" y="569"/>
<use href="#Ur" x="631" y="577"/>
<use href="#Lr" x="663" y="593"/>
<use href="#Rr" x="647" y="609"/>
<use href="#Lr" x="663" y="609"/>
<use href="#Dr" x="679" y="625"/>
<use href="#Lb" x="663" y="633"/>
<use href="#Dr" x="679" y="641"/>
<use href="#Lr" x="663" y="657"/>
<use href="#Ub" x="695" y="665"/>
<use href="#Lr" x="663" y="673"/>
<use href="#Ur" x="695" y="689"/>
<use href="#Rb" x="647" y="697"/>
<use href="#Ur" x="695" y="705"/>
<use href="#Rr" x="647" y="721"/>
<use href="#Rr" x="647" y="737"/>
<use href="#Lr" x="663" y="737"/>
<use href="#Ur" x="631" y="753"/>
<use href="#Lb" x="663" y="761"/>
<use href="#Ur" x="631" y="769"/>
<use href="#Rb" x="647" y="777"/>
<use href="#Ub" x="631" y="793"/>
<use href="#Lr" x="663" y="801"/>
<use href="#Rb" x="647" y="809"/>
<use href="#Db" x="823" y="57"/>
<use href="#Lr" x="807" y="65"/>
<use href="#Ub" x="839" y="73"/>
<use href="#Db" x="823" y="89"/>
<use href="#Db" x="823" y="105"/>
<use href="#Ub" x="839" y="105"/>
</svg>
<div class="t" id="t1" style="left:7.5px;top:7px;font-size:11.67px;font-weight:bold;transform:scale(1,1.05);text-rendering:geometricPrecision;-webkit-text-stroke:0.2px #000">Sota Fujimori</div>
<div class="t" id="t2" style="top:23px;font-size:13.33px;-webkit-text-stroke:0.2px #000">Saturday Night Love -Phunk Disco Mix-</div>
<div class="t" id="t3" style="left:7.3px;top:38px;font-size:10px;transform:scale(1,1.2);text-rendering:geometricPrecision;">BPM: 135 / ANOTHER DOUBLE / 8 feet</div>
<div class="t" id="t4" style="top:50px;left:11.7px;font-size:10px;transform:scale(1,1.2);text-rendering:geometricPrecision;">A</div>
<div class="t" id="t5" style="left:7.3px;top:828px;font-size:10px;color:#686868;transform:scale(1,1.2);text-rendering:geometricPrecision;">A: 135 BPM</div>
<div class="t" id="t6" style="left:7.3px;top:843px;font-size:10px;transform:scale(1,1.2);text-rendering:geometricPrecision;">261 steps, 32 freeze arrows, max combo 279</div>
</div></body></html>
